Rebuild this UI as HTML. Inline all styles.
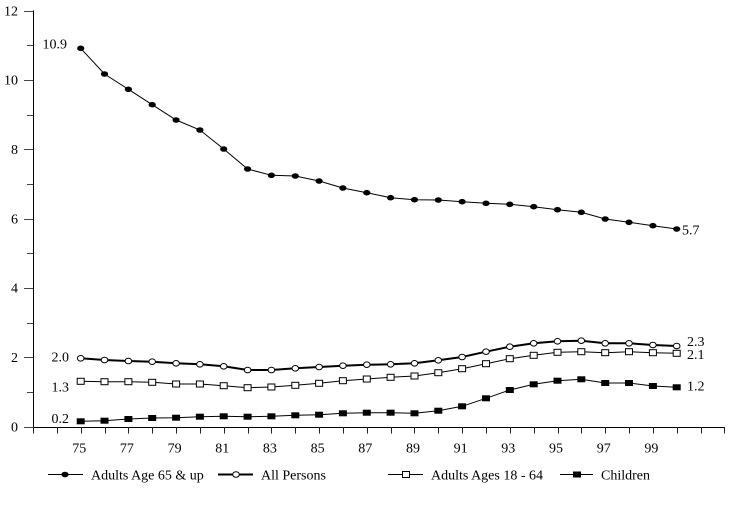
<!DOCTYPE html>
<html><head><meta charset="utf-8"><style>
html,body{margin:0;padding:0;background:#fff;}
svg{display:block;font-family:"Liberation Serif","Times New Roman",serif;}
svg text{font-family:"Liberation Serif","Times New Roman",serif !important;font-size:14px;fill:#000;}
</style></head><body>
<svg width="751" height="518" viewBox="0 0 751 518" xmlns="http://www.w3.org/2000/svg" font-family="Liberation Serif, Times New Roman, serif" font-size="14">
<rect width="751" height="518" fill="#fff"/>
<g stroke="#000" stroke-width="1" shape-rendering="crispEdges">
<line x1="33.5" y1="10.7" x2="33.5" y2="433.5"/>
<line x1="24" y1="427.5" x2="725" y2="427.5"/>
</g>
<g id="yticks" stroke="#444" stroke-width="1" shape-rendering="crispEdges"></g>
<g id="xticks" stroke="#222" stroke-width="1" shape-rendering="crispEdges"></g>
<g id="ylabels" font-family="Liberation Serif, serif"></g>
<g id="xlabels" font-family="Liberation Serif, serif"></g>
<g id="series"></g>
<g font-family="Liberation Serif, serif" font-size="14">
<text font-family="Liberation Serif, serif" x="67" y="48.6" text-anchor="end">10.9</text>
<text font-family="Liberation Serif, serif" x="69" y="361.3" text-anchor="end">2.0</text>
<text font-family="Liberation Serif, serif" x="69" y="391.3" text-anchor="end">1.3</text>
<text font-family="Liberation Serif, serif" x="69" y="423" text-anchor="end">0.2</text>
<text font-family="Liberation Serif, serif" x="687" y="346">2.3</text>
<text font-family="Liberation Serif, serif" x="687" y="359">2.1</text>
<text font-family="Liberation Serif, serif" x="687" y="390.3">1.2</text>
<text font-family="Liberation Serif, serif" x="682" y="234.6">5.7</text>
</g>
<g font-family="Liberation Serif, serif" font-size="14">
<line x1="48" y1="474.5" x2="83" y2="474.5" stroke="#000" stroke-width="1"/>
<ellipse cx="65" cy="474.5" rx="3.6" ry="2.8" fill="#000"/>
<text font-family="Liberation Serif, serif" x="91" y="479.3">Adults Age 65 &amp; up</text>
<line x1="218" y1="474.5" x2="253" y2="474.5" stroke="#000" stroke-width="2"/>
<ellipse cx="236" cy="474.5" rx="3.3" ry="2.8" fill="#fff" stroke="#000" stroke-width="1"/>
<text font-family="Liberation Serif, serif" x="261" y="479.3">All Persons</text>
<line x1="388" y1="474.5" x2="423" y2="474.5" stroke="#000" stroke-width="1"/>
<rect x="402.5" y="471.5" width="7" height="6" fill="#fff" stroke="#000" stroke-width="1"/>
<text font-family="Liberation Serif, serif" x="431" y="479.3">Adults Ages 18 - 64</text>
<line x1="560" y1="474.5" x2="593" y2="474.5" stroke="#000" stroke-width="1"/>
<rect x="573" y="471.5" width="8" height="6" fill="#000"/>
<text font-family="Liberation Serif, serif" x="601" y="479.3">Children</text>
</g>
</svg>
<script>
(function(){
var NS="http://www.w3.org/2000/svg";
function el(tag,attrs,parent,txt){var e=document.createElementNS(NS,tag);for(var k in attrs)e.setAttribute(k,attrs[k]);if(txt!==undefined)e.textContent=txt;parent.appendChild(e);return e;}
function X(i){return 80.7+23.84*i;}
function Y(v){return 426.7-34.67*v;}
var yt=document.getElementById('yticks'),xt=document.getElementById('xticks'),yl=document.getElementById('ylabels'),xl=document.getElementById('xlabels'),s=document.getElementById('series');
var FF="Liberation Serif, serif";
for(var v=0;v<=12;v++){var y=Math.round(Y(v))+0.5;var major=(v%2==0);el('line',{x1:major?24:27,y1:y,x2:33,y2:y},yt);
 if(major)el('text',{x:18,y:(Y(v)+4.6).toFixed(1),'text-anchor':'end','font-family':FF,'font-size':14},yl,String(v));}
for(var i=-2;i<=27;i++){var x=Math.round(X(i))+0.5;el('line',{x1:x,y1:427,x2:x,y2:433.5},xt);}
for(var i=0;i<=24;i+=2){var yr=(75+i)%100;el('text',{x:(X(i)-1.5).toFixed(1),y:452.6,'text-anchor':'middle','font-family':FF,'font-size':14},xl,String(yr));}
var a65=[48.3,74,89.3,104.7,120,130,149,169,175.3,176,181,188,192.7,197.7,199.7,200,201.7,203.3,204.3,206.7,209.7,212.3,219,222.3,225.7,229];
var all=[358.3,360,361,361.7,363.3,364.3,366.3,370,370,368.3,367,365.7,364.7,364.3,363.3,360.3,357,351.7,346.7,343.3,341.3,340.7,343.3,343.3,345,346];
var a18=[381.3,381.7,381.7,382.3,384,384,385.7,387.7,387,385.3,383.3,380.7,379,377.3,376,372.7,368.7,363.7,358.7,355.3,352.3,351.7,352.7,351.7,352.7,353.3];
var ch=[421.3,420.7,419,418,417.7,416.7,416.3,416.7,416.3,415.3,414.7,413.3,412.7,412.7,413.3,410.7,406.3,398.3,390,384.3,380.7,379.3,383,383,386,387.3];
function pts(arr){return arr.map(function(y,i){return X(i).toFixed(1)+','+y;}).join(' ');}
el('polyline',{points:pts(a65),fill:'none',stroke:'#000','stroke-width':1},s);
el('polyline',{points:pts(all),fill:'none',stroke:'#000','stroke-width':2},s);
el('polyline',{points:pts(a18),fill:'none',stroke:'#000','stroke-width':1},s);
el('polyline',{points:pts(ch),fill:'none',stroke:'#000','stroke-width':1},s);
a65.forEach(function(y,i){el('ellipse',{cx:X(i).toFixed(1),cy:y,rx:3.6,ry:2.8,fill:'#000'},s);});
all.forEach(function(y,i){el('ellipse',{cx:X(i).toFixed(1),cy:y,rx:3.3,ry:2.8,fill:'#fff',stroke:'#000','stroke-width':1},s);});
a18.forEach(function(y,i){el('rect',{x:(X(i)-3.5).toFixed(1),y:(y-3).toFixed(1),width:7,height:6,fill:'#fff',stroke:'#000','stroke-width':1},s);});
ch.forEach(function(y,i){el('rect',{x:(X(i)-4).toFixed(1),y:(y-3).toFixed(1),width:8,height:6,fill:'#000'},s);});
})();
</script>
</body></html>
